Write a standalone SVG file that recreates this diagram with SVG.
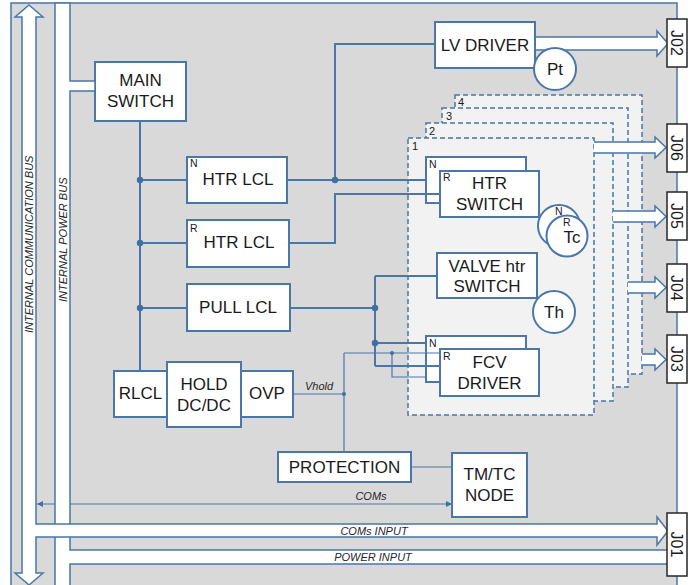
<svg xmlns="http://www.w3.org/2000/svg" width="694" height="585" viewBox="0 0 694 585">
<style>
.bg{fill:#d9d9d9;stroke:#4a76a8;stroke-width:1.5}
.box{fill:#fff;stroke:#4a76a8;stroke-width:2}
.t{font-family:"Liberation Sans",Arial,sans-serif;font-size:17px;fill:#1a1a1a;text-anchor:middle}
.s{font-family:"Liberation Sans",Arial,sans-serif;font-size:10.5px;fill:#1a1a1a}
.n{font-family:"Liberation Sans",Arial,sans-serif;font-size:11px;fill:#1a1a1a}
.i{font-family:"Liberation Sans",Arial,sans-serif;font-size:11px;font-style:italic;fill:#262626;text-anchor:middle}
.ib{font-family:"Liberation Sans",Arial,sans-serif;font-size:11px;font-style:italic;fill:#262626}
.w{stroke:#4a76a8;stroke-width:2;fill:none}
.th{stroke:#4a76a8;stroke-width:1.2;fill:none}
.dash{fill:#f2f2f2;stroke:#4a76a8;stroke-width:1.5;stroke-dasharray:5 3}
.bus{fill:#fff;stroke:#4a76a8;stroke-width:1.5}
.jb{fill:#fff;stroke:#262626;stroke-width:1.5}
.jt{font-family:"Liberation Sans",Arial,sans-serif;font-size:16px;fill:#1a1a1a;text-anchor:middle}
.dot{fill:#3f6fa3}
</style>
<defs>
<marker id="ah" viewBox="0 0 10 10" refX="10" refY="5" markerWidth="6" markerHeight="6" markerUnits="userSpaceOnUse" orient="auto-start-reverse">
<path d="M0,0 L10,5 L0,10 Z" fill="#3f6fa3"/>
</marker>
</defs>
<rect class="bg" x="11" y="3" width="666" height="590"/>

<g id="slot4"><rect class="dash" x="455" y="95" width="187" height="279"/><text class="n" x="458" y="106">4</text></g>
<g id="slot3"><rect class="dash" x="442" y="108" width="186" height="279"/><text class="n" x="446" y="120">3</text></g>
<g id="slot2"><rect class="dash" x="426" y="123" width="187" height="278"/><text class="n" x="429" y="135">2</text></g>
<g id="slot1"><rect class="dash" x="408" y="138" width="186" height="277"/><text class="n" x="412" y="150">1</text></g>

<g id="harness-arrows">
<path class="bus" d="M535,37 H657 V31 L668,43.5 L657,56 V50 H535"/>
<path class="bus" d="M594,142 H655 V137 L666,147.5 L655,158 V153 H594"/>
<path class="bus" d="M613,211 H655 V206 L666,216.5 L655,227 V222 H613"/>
<path class="bus" d="M628,282 H655 V277 L666,287.5 L655,298 V293 H628"/>
<path class="bus" d="M642,354 H655 V349 L666,359.5 L655,370 V365 H642"/>
</g>

<g id="main-switch"><rect class="box" x="95" y="62" width="91" height="59"/><text class="t" x="140.5" y="86">MAIN</text><text class="t" x="140.5" y="107">SWITCH</text></g>
<g id="htr-lcl-n"><rect class="box" x="187" y="157" width="100" height="46"/><text class="s" x="190" y="167">N</text><text class="t" x="238" y="185">HTR LCL</text></g>
<g id="htr-lcl-r"><rect class="box" x="187" y="220" width="102" height="47"/><text class="s" x="190" y="232">R</text><text class="t" x="239" y="248">HTR LCL</text></g>
<g id="pull-lcl"><rect class="box" x="187" y="284" width="103" height="47"/><text class="t" x="238" y="313">PULL LCL</text></g>
<g id="rlcl"><rect class="box" x="114" y="371" width="53" height="46"/><text class="t" x="140.5" y="399">RLCL</text></g>
<g id="ovp"><rect class="box" x="241" y="371" width="52" height="46"/><text class="t" x="267" y="399">OVP</text></g>
<g id="hold-dcdc"><rect class="box" x="167" y="362" width="74" height="65"/><text class="t" x="204" y="390">HOLD</text><text class="t" x="204" y="411">DC/DC</text></g>
<g id="protection"><rect class="box" x="278" y="452" width="133" height="30"/><text class="t" x="344.5" y="473">PROTECTION</text></g>
<g id="tmtc-node"><rect class="box" x="452" y="453" width="75" height="64"/><text class="t" x="489.5" y="480">TM/TC</text><text class="t" x="489.5" y="501">NODE</text></g>
<g id="lv-driver"><rect class="box" x="435" y="22" width="100" height="46"/><text class="t" x="485" y="51">LV DRIVER</text></g>
<g id="pt"><circle class="box" cx="555" cy="69" r="21"/><text class="t" x="555" y="75">Pt</text></g>
<g id="htr-switch-n"><rect class="box" x="426" y="157" width="100" height="46"/><text class="s" x="429" y="168">N</text></g>
<g id="htr-switch-r"><rect class="box" x="440" y="171" width="99" height="46"/><text class="s" x="443" y="181">R</text><text class="t" x="489.5" y="189">HTR</text><text class="t" x="489.5" y="210">SWITCH</text></g>
<g id="tc-n"><circle class="box" cx="559" cy="226" r="21"/><text class="s" x="555" y="215">N</text></g>
<g id="tc-r"><circle class="box" cx="567" cy="236" r="20.5"/><text class="s" x="563" y="226">R</text><text class="t" x="572" y="243">Tc</text></g>
<g id="valve-htr-switch"><rect class="box" x="437" y="253" width="100" height="45"/><text class="t" x="487" y="272">VALVE htr</text><text class="t" x="487" y="292">SWITCH</text></g>
<g id="th"><circle class="box" cx="554" cy="312" r="21"/><text class="t" x="554" y="318">Th</text></g>
<g id="fcv-driver-n"><rect class="box" x="426" y="336" width="100" height="46"/><text class="s" x="429" y="347">N</text></g>
<g id="fcv-driver-r"><rect class="box" x="440" y="349" width="99" height="47"/><text class="s" x="443" y="360">R</text><text class="t" x="489.5" y="368">FCV</text><text class="t" x="489.5" y="389">DRIVER</text></g>

<g id="connectors">
<path class="w" d="M140,121 V371 M140,180 H187 M140,243 H187 M140,308 H187"/>
<path class="w" d="M287,180 H426 M335,180 V44 H435"/>
<path class="w" d="M289,243 H335 V194 H440"/>
<path class="w" d="M290,308 H375 M375,276 V366 M375,276 H437 M375,343 H426 M375,366 H440"/>
<path class="th" d="M293,394 H344 M344,353 V452 M344,353 H440 M392,353 V377 H426"/>
<path class="th" d="M411,467 H452"/>
<path class="th" d="M37,504 H452" marker-start="url(#ah)" marker-end="url(#ah)"/>
<circle class="dot" cx="140" cy="180" r="3.2"/>
<circle class="dot" cx="140" cy="243" r="3.2"/>
<circle class="dot" cx="140" cy="308" r="3.2"/>
<circle class="dot" cx="335" cy="180" r="3.2"/>
<circle class="dot" cx="375" cy="308" r="3.2"/>
<circle class="dot" cx="375" cy="343" r="3.2"/>
<circle class="dot" cx="344" cy="394" r="2"/>
<circle class="dot" cx="392" cy="353" r="2"/>
<text class="ib" x="305" y="390">Vhold</text>
<text class="i" x="371" y="500">COMs</text>
</g>

<g id="power-bus">
<path class="bus" d="M55,3 H70 V81 H95 V91 H70 V550 H668 V564 H70 V592 H55 Z"/>
<text class="ib" transform="translate(66.5,302) rotate(-90)">INTERNAL POWER BUS</text>
<text class="i" x="373" y="561">POWER INPUT</text>
</g>
<g id="comm-bus">
<path class="bus" d="M29,5 L43,17 H36 V524 H657 V517 L668,531 L657,545 V537 H36 V573 H43 L29,585 L15,573 H22 V17 H15 Z"/>
<text class="ib" transform="translate(33,333) rotate(-90)">INTERNAL COMMUNICATION BUS</text>
<text class="i" x="374" y="535">COMs INPUT</text>
</g>

<g id="connectors-j">
<g id="j02"><rect class="jb" x="667" y="19" width="20" height="48"/><text class="jt" transform="translate(677,43) rotate(90)" y="6">J02</text></g>
<g id="j06"><rect class="jb" x="667" y="124" width="20" height="48"/><text class="jt" transform="translate(677,148) rotate(90)" y="6">J06</text></g>
<g id="j05"><rect class="jb" x="667" y="192" width="20" height="48"/><text class="jt" transform="translate(677,216) rotate(90)" y="6">J05</text></g>
<g id="j04"><rect class="jb" x="667" y="264" width="20" height="48"/><text class="jt" transform="translate(677,288) rotate(90)" y="6">J04</text></g>
<g id="j03"><rect class="jb" x="667" y="335" width="20" height="48"/><text class="jt" transform="translate(677,359) rotate(90)" y="6">J03</text></g>
<g id="j01"><rect class="jb" x="667" y="513" width="20" height="63"/><text class="jt" transform="translate(677,544.5) rotate(90)" y="6">J01</text></g>
</g>
</svg>
